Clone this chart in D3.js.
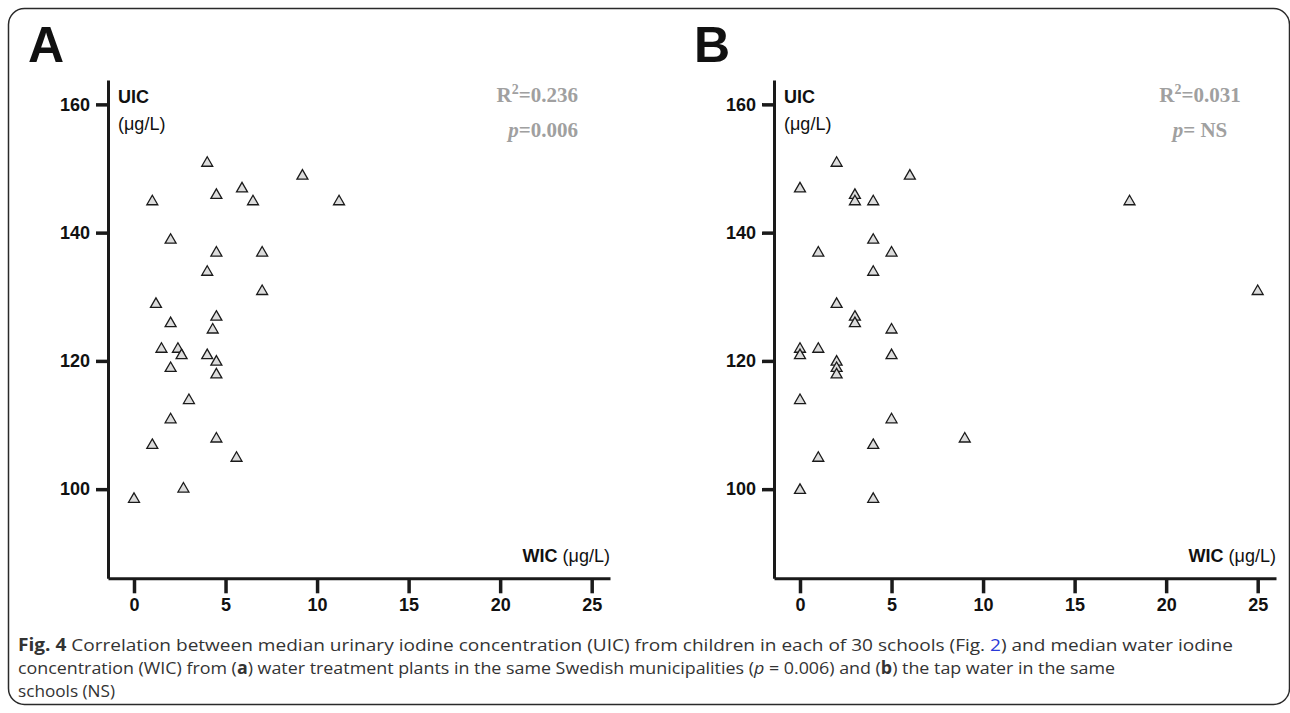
<!DOCTYPE html>
<html>
<head>
<meta charset="utf-8">
<script src="https://cdn.jsdelivr.net/npm/d3@7/dist/d3.min.js"></script>
<style>
  html, body { margin: 0; padding: 0; background: #fff; }
  svg { display: block; }
</style>
</head>
<body>
<div id="chart"></div>
<script>
'use strict';

// WIC (ug/L) and UIC (ug/L) per school, panel A: treatment plants
const wicA = [4.0, 9.2, 5.9, 4.5, 1.0, 6.5, 11.2, 2.0, 4.5, 7.0, 4.0, 7.0, 1.2, 2.0, 4.5,
  4.3, 1.5, 2.4, 2.6, 4.0, 4.5, 2.0, 4.5, 3.0, 2.0, 4.5, 1.0, 5.6, 2.7, 0.0];
const uicA = [151, 149, 147, 146, 145, 145, 145, 139, 137, 137, 134, 131, 129, 126, 127,
  125, 122, 122, 121, 121, 120, 119, 118, 114, 111, 108, 107, 105, 100.2, 98.6];

// panel B: tap water in the schools
const wicB = [2, 6, 0, 3, 3, 4, 4, 1, 5, 4, 2, 3, 3, 5, 0,
  0, 1, 5, 2, 2, 2, 0, 5, 4, 1, 0, 4, 9, 18, 25];
const uicB = [151, 149, 147, 146, 145, 145, 139, 137, 137, 134, 129, 127, 126, 125, 122,
  121, 122, 121, 120, 119, 118, 114, 111, 107, 105, 100, 98.6, 108, 145, 131];

const xTicks = [0, 5, 10, 15, 20, 25];
const yTicks = [100, 120, 140, 160];
const statsA = {r2: '0.236', p: '0.006'};
const statsB = {r2: '0.031', p: ' NS'};

const width = 1290;
const height = 713;
const axisColor = '#1a1a1a';
const sans = 'Liberation Sans, Arial, sans-serif';

const svg = d3.select('#chart')
  .append('svg')
  .attr('width', width)
  .attr('height', height);

// outer rounded frame
svg.append('rect')
  .attr('x', 8.5)
  .attr('y', 8.5)
  .attr('width', 1281)
  .attr('height', 696)
  .attr('rx', 16)
  .attr('fill', 'none')
  .attr('stroke', '#2a2a2a')
  .attr('stroke-width', 1.5);

function drawPanel(opts) {
  const x = d3.scaleLinear().domain([-1.42, 26.0]).range([opts.left, opts.left + 502]);
  const y = d3.scaleLinear().domain([86.1, 163.8]).range([578.3, 80]);
  const g = svg.append('g');

  g.append('text')
    .attr('x', opts.left - 80)
    .attr('y', 62)
    .attr('font-family', sans)
    .attr('font-weight', 'bold')
    .attr('font-size', 50)
    .attr('fill', '#111')
    .text(opts.letter);

  const yAxis = g.append('g')
    .attr('transform', 'translate(' + opts.left + ',0)')
    .call(d3.axisLeft(y).tickValues(yTicks).tickSize(12).tickSizeOuter(0).tickPadding(6));

  const xAxis = g.append('g')
    .attr('transform', 'translate(0,578.3)')
    .call(d3.axisBottom(x).tickValues(xTicks).tickSize(15).tickSizeOuter(0).tickPadding(5));

  [yAxis, xAxis].forEach(function(ax) {
    ax.select('.domain').attr('stroke', axisColor).attr('stroke-width', 3);
    ax.selectAll('.tick line').attr('stroke', axisColor).attr('stroke-width', 3.5);
    ax.selectAll('.tick text')
      .attr('font-family', sans)
      .attr('font-weight', 'bold')
      .attr('font-size', 18)
      .attr('fill', '#111');
  });

  // axis titles
  g.append('text')
    .attr('x', opts.left + 10)
    .attr('y', 103)
    .attr('font-family', sans)
    .attr('font-weight', 'bold')
    .attr('font-size', 18)
    .attr('fill', '#111')
    .text('UIC');
  g.append('text')
    .attr('x', opts.left + 10)
    .attr('y', 130)
    .attr('font-family', sans)
    .attr('font-size', 18)
    .attr('fill', '#111')
    .text('(\u03bcg/L)');

  const wic = g.append('text')
    .attr('x', opts.left + 502)
    .attr('y', 562)
    .attr('text-anchor', 'end')
    .attr('font-family', sans)
    .attr('font-size', 18)
    .attr('fill', '#111');
  wic.append('tspan').attr('font-weight', 'bold').text('WIC');
  wic.append('tspan').text(' (\u03bcg/L)');

  // regression stats
  const r2 = g.append('text')
    .attr('x', opts.statsX)
    .attr('y', 102)
    .attr('text-anchor', opts.statsAnchor)
    .attr('font-family', 'Liberation Serif, Times New Roman, serif')
    .attr('font-weight', 'bold')
    .attr('font-size', 21)
    .attr('fill', '#a0a0a0');
  r2.append('tspan').text('R');
  r2.append('tspan').attr('font-size', 14).attr('dy', -8).text('2');
  r2.append('tspan').attr('dy', 8).text('=' + opts.stats.r2);

  const p = g.append('text')
    .attr('x', opts.statsX)
    .attr('y', 137)
    .attr('text-anchor', opts.statsAnchor)
    .attr('font-family', 'Liberation Serif, Times New Roman, serif')
    .attr('font-weight', 'bold')
    .attr('font-size', 21)
    .attr('fill', '#a0a0a0');
  p.append('tspan').attr('font-style', 'italic').text('p');
  p.append('tspan').text('=' + opts.stats.p);

  const tri = d3.symbol().type(d3.symbolTriangle).size(52);
  g.append('g')
    .selectAll('path')
    .data(d3.range(opts.xs.length))
    .join('path')
    .attr('d', tri)
    .attr('transform', function(i) {
      return 'translate(' + x(opts.xs[i]) + ',' + (y(opts.ys[i]) + 1) + ')';
    })
    .attr('fill', '#dcdcdc')
    .attr('stroke', '#1a1a1a')
    .attr('stroke-width', 1.3);
}

drawPanel({letter: 'A', left: 108, xs: wicA, ys: uicA, stats: statsA,
  statsX: 578, statsAnchor: 'end'});
drawPanel({letter: 'B', left: 774, xs: wicB, ys: uicB, stats: statsB,
  statsX: 1200, statsAnchor: 'middle'});

// figure caption
const captionFont = 'Open Sans, Noto Sans, sans-serif';
const lines = [
  {y: 651, len: 1215, parts: [
    {t: 'Fig. 4', w: 'bold'},
    {t: ' Correlation between median urinary iodine concentration (UIC) from children in each of 30 schools (Fig. '},
    {t: '2', c: '#2a3ad8'},
    {t: ') and median water iodine'}]},
  {y: 674, len: 1097, parts: [
    {t: 'concentration (WIC) from ('},
    {t: 'a', w: 'bold'},
    {t: ') water treatment plants in the same Swedish municipalities ('},
    {t: 'p', s: 'italic'},
    {t: ' = 0.006) and ('},
    {t: 'b', w: 'bold'},
    {t: ') the tap water in the same'}]},
  {y: 697, len: 97, parts: [{t: 'schools (NS)'}]}
];

lines.forEach(function(line) {
  const txt = svg.append('text')
    .attr('x', 18)
    .attr('y', line.y)
    .attr('font-family', captionFont)
    .attr('font-size', 17)
    .attr('fill', '#333')
    .attr('textLength', line.len)
    .attr('lengthAdjust', 'spacingAndGlyphs');
  line.parts.forEach(function(part) {
    txt.append('tspan')
      .attr('font-weight', part.w || null)
      .attr('font-style', part.s || null)
      .attr('fill', part.c || null)
      .text(part.t);
  });
});
</script>
</body>
</html>
